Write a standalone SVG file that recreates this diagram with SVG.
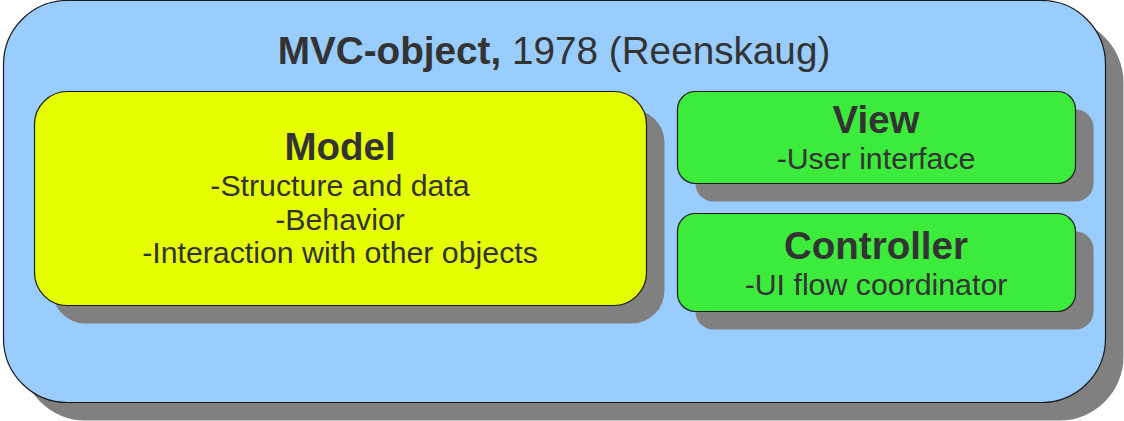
<svg xmlns="http://www.w3.org/2000/svg" width="1124" height="421" viewBox="0 0 1124 421">
<style>
.sh{fill:#808080;stroke:none}
.box{stroke:#1a1a1a;stroke-width:1.2}
.t{font-family:"Liberation Sans",Arial,sans-serif;fill:#333333;text-anchor:middle}
.h{font-weight:bold;font-size:38.5px}
.b{font-size:30.3px}
</style>
<rect width="1124" height="421" fill="#ffffff"/>
<g id="mvc-object">
<rect class="sh" x="21.5" y="18.5" width="1102" height="402" rx="64" ry="64"/>
<rect class="box" x="3.5" y="0.5" width="1102" height="402" rx="64" ry="64" fill="#99ccff"/>
<text class="t" x="554" y="64" font-size="38.7"><tspan font-weight="bold">MVC-object,</tspan> 1978 (Reenskaug)</text>
</g>
<g id="model">
<rect class="sh" x="52.5" y="109.5" width="612" height="214" rx="33" ry="33"/>
<rect class="box" x="34.5" y="91.5" width="612" height="214" rx="33" ry="33" fill="#e6ff00"/>
<text class="t h" x="340" y="160">Model</text>
<text class="t b" x="340" y="196">-Structure and data</text>
<text class="t b" x="340" y="230">-Behavior</text>
<text class="t b" x="340" y="263">-Interaction with other objects</text>
</g>
<g id="view">
<rect class="sh" x="695.5" y="109.5" width="398" height="92" rx="18" ry="18"/>
<rect class="box" x="677.5" y="91.5" width="398" height="92" rx="18" ry="18" fill="#3deb3d"/>
<text class="t h" x="876" y="133">View</text>
<text class="t b" x="876" y="169">-User interface</text>
</g>
<g id="controller">
<rect class="sh" x="695.5" y="231.5" width="398" height="98" rx="18" ry="18"/>
<rect class="box" x="677.5" y="213.5" width="398" height="98" rx="18" ry="18" fill="#3deb3d"/>
<text class="t h" x="876" y="259">Controller</text>
<text class="t b" x="876" y="295">-UI flow coordinator</text>
</g>
<g id="connectors"></g>
</svg>
